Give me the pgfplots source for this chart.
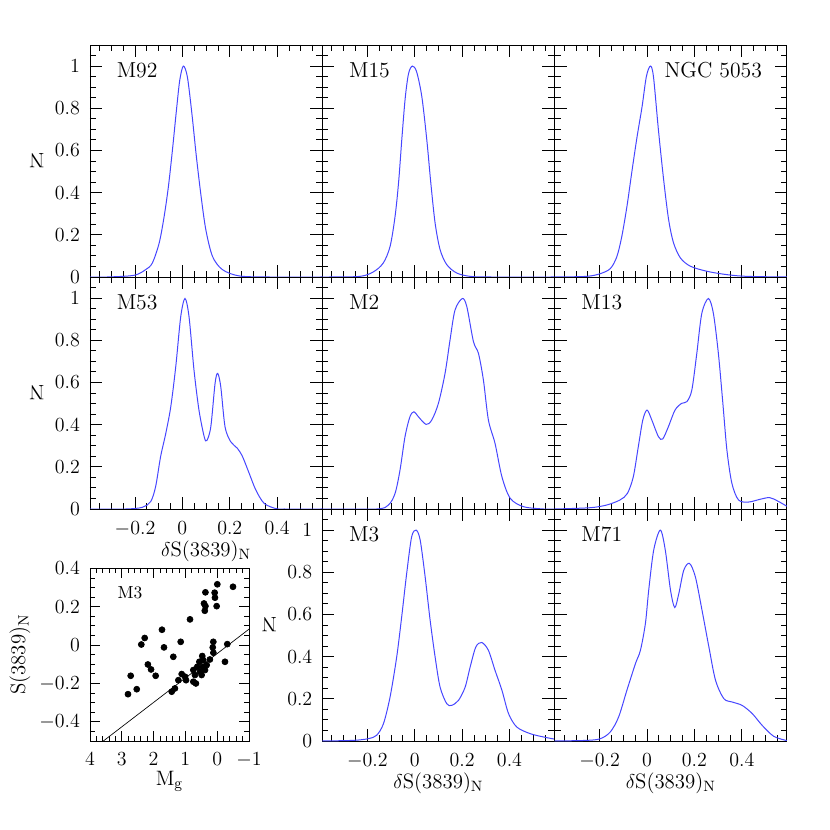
\documentclass[border=0pt]{standalone}
\usepackage{pgfplots}
\pgfplotsset{compat=1.18}
\definecolor{kde}{RGB}{70,70,255}
\pgfplotsset{
  panel/.style={
    scale only axis, width=139.3pt, height=139.2pt,
    xmin=-0.39, xmax=0.59, ymin=0, ymax=1.1,
    xtick={-0.2,0,0.2,0.4},
    minor xtick={-0.35,-0.3,-0.25,-0.15,-0.1,-0.05,0.05,0.1,0.15,0.25,0.3,0.35,0.45,0.5,0.55},
    ytick={0,0.2,0.4,0.6,0.8,1},
    minor ytick={0.05,0.1,0.15,0.25,0.3,0.35,0.45,0.5,0.55,0.65,0.7,0.75,0.85,0.9,0.95,1.05},
    tick align=inside, major tick length=7.2pt, minor tick length=3.6pt,
    xtick pos=both, ytick pos=both,
    axis line style={line width=0.5pt}, every tick/.style={black, line width=0.5pt},
    tick label style={font=\fontsize{12}{14}\selectfont},
    xticklabel style={yshift=-4pt},
    yticklabel style={xshift=-2.5pt},
    label style={font=\fontsize{12.5}{15}\selectfont},
    xlabel style={at={(axis description cs:0.5,-0.203)}, anchor=base},
    ylabel style={at={(axis description cs:-0.229,0.5)}, anchor=center, rotate=90},
    clip=true,
  },
  nox/.style={xticklabels={}},
  noy/.style={yticklabels={}},
  curve/.style={kde, line width=0.6pt, smooth, no marks},
}
\newcommand{\plabel}[1]{\node[anchor=base west, font=\fontsize{13}{15}\selectfont] at (rel axis cs:0.09,0.858) {#1};}
\begin{document}
\begin{tikzpicture}
\path (0,0) rectangle (498pt,498pt);
% Row 1
\begin{axis}[panel, nox, at={(54pt,331.8pt)}, ylabel={N}]
\addplot[curve] coordinates {(-0.39,0) (-0.317,0) (-0.204,0.008) (-0.155,0.035) (-0.127,0.066) (-0.098,0.161) (-0.077,0.287) (-0.059,0.429) (-0.042,0.602) (-0.025,0.792) (-0.011,0.934) (0.004,1.0) (0.021,0.949) (0.040,0.776) (0.059,0.571) (0.079,0.382) (0.099,0.224) (0.127,0.098) (0.169,0.035) (0.240,0.005) (0.366,0) (0.59,0)};
\plabel{M92}
\end{axis}
\begin{axis}[panel, nox, noy, at={(193.4pt,331.8pt)}]
\addplot[curve] coordinates {(-0.39,0) (-0.358,0) (-0.231,0.003) (-0.175,0.024) (-0.133,0.066) (-0.104,0.145) (-0.083,0.287) (-0.068,0.450) (-0.054,0.660) (-0.040,0.850) (-0.026,0.965) (-0.010,1.0) (0.008,0.973) (0.030,0.855) (0.051,0.650) (0.068,0.445) (0.086,0.256) (0.107,0.130) (0.135,0.059) (0.177,0.019) (0.234,0.003) (0.318,0) (0.59,0)};
\plabel{M15}
\end{axis}
\begin{axis}[panel, nox, noy, at={(332.8pt,331.8pt)}]
\addplot[curve] coordinates {(-0.39,0) (-0.255,0.003) (-0.197,0.016) (-0.155,0.040) (-0.128,0.095) (-0.107,0.19) (-0.085,0.334) (-0.063,0.508) (-0.042,0.666) (-0.021,0.808) (-0.003,0.950) (0.014,1.0) (0.027,0.950) (0.048,0.697) (0.070,0.461) (0.091,0.272) (0.112,0.161) (0.141,0.090) (0.183,0.051) (0.253,0.027) (0.338,0.011) (0.422,0.003) (0.59,0)};
\node[anchor=base east, font=\fontsize{13}{15}\selectfont] at (rel axis cs:0.918,0.858) {NGC 5053};
\end{axis}
% Row 2
\begin{axis}[panel, at={(54pt,192.6pt)}, ylabel={N}, xlabel={$\delta$S(3839)$_\mathrm{N}$}]
\addplot[curve] coordinates {(-0.39,0) (-0.239,0) (-0.169,0.008) (-0.134,0.035) (-0.113,0.106) (-0.092,0.248) (-0.070,0.359) (-0.049,0.485) (-0.028,0.675) (-0.007,0.912) (0.011,0.998) (0.028,0.912) (0.049,0.659) (0.070,0.469) (0.092,0.343) (0.103,0.324) (0.120,0.390) (0.138,0.596) (0.149,0.643) (0.162,0.580) (0.180,0.390) (0.204,0.319) (0.232,0.288) (0.254,0.248) (0.282,0.169) (0.310,0.090) (0.345,0.027) (0.394,0.002) (0.430,0) (0.59,0)};
\plabel{M53}
\end{axis}
\begin{axis}[panel, nox, noy, at={(193.4pt,192.6pt)}]
\addplot[curve] coordinates {(-0.39,0) (-0.161,0) (-0.111,0.019) (-0.083,0.074) (-0.062,0.185) (-0.041,0.343) (-0.020,0.438) (-0.003,0.461) (0.015,0.438) (0.048,0.401) (0.072,0.422) (0.100,0.501) (0.128,0.643) (0.149,0.801) (0.170,0.943) (0.201,0.998) (0.220,0.959) (0.248,0.793) (0.269,0.738) (0.290,0.611) (0.311,0.422) (0.339,0.311) (0.368,0.153) (0.403,0.051) (0.459,0.011) (0.544,0) (0.59,0)};
\plabel{M2}
\end{axis}
\begin{axis}[panel, nox, noy, at={(332.8pt,192.6pt)}]
\addplot[curve] coordinates {(-0.39,0) (-0.241,0.006) (-0.170,0.019) (-0.114,0.043) (-0.083,0.074) (-0.058,0.153) (-0.037,0.295) (-0.018,0.422) (0,0.469) (0.020,0.422) (0.048,0.343) (0.066,0.332) (0.090,0.390) (0.118,0.469) (0.146,0.501) (0.168,0.509) (0.189,0.564) (0.210,0.738) (0.231,0.927) (0.259,0.998) (0.280,0.927) (0.301,0.738) (0.320,0.501) (0.337,0.280) (0.358,0.122) (0.386,0.043) (0.428,0.033) (0.477,0.046) (0.517,0.054) (0.551,0.038) (0.59,0.013)};
\plabel{M13}
\end{axis}
% Row 3
\begin{axis}[panel, at={(193.4pt,53.4pt)}, ylabel={N}, xlabel={$\delta$S(3839)$_\mathrm{N}$}]
\addplot[curve] coordinates {(-0.39,0) (-0.259,0.003) (-0.196,0.011) (-0.161,0.027) (-0.132,0.082) (-0.104,0.209) (-0.076,0.399) (-0.055,0.589) (-0.034,0.794) (-0.013,0.968) (0.006,1.0) (0.023,0.953) (0.044,0.778) (0.065,0.573) (0.086,0.399) (0.107,0.256) (0.135,0.177) (0.156,0.169) (0.185,0.193) (0.213,0.256) (0.234,0.351) (0.258,0.446) (0.283,0.467) (0.311,0.430) (0.339,0.335) (0.368,0.241) (0.396,0.130) (0.431,0.066) (0.487,0.035) (0.544,0.019) (0.59,0.009)};
\plabel{M3}
\end{axis}
\begin{axis}[panel, noy, at={(332.8pt,53.4pt)}, xlabel={$\delta$S(3839)$_\mathrm{N}$}]
\addplot[curve] coordinates {(-0.39,0) (-0.254,0.003) (-0.197,0.011) (-0.155,0.043) (-0.120,0.114) (-0.085,0.241) (-0.049,0.367) (-0.028,0.430) (-0.007,0.557) (0.007,0.715) (0.028,0.905) (0.056,1.0) (0.077,0.905) (0.099,0.715) (0.117,0.633) (0.134,0.699) (0.155,0.810) (0.179,0.842) (0.204,0.778) (0.232,0.620) (0.261,0.446) (0.289,0.288) (0.324,0.201) (0.359,0.185) (0.401,0.169) (0.444,0.130) (0.486,0.074) (0.535,0.022) (0.59,0.002)};
\plabel{M71}
\end{axis}
% Inset
\begin{axis}[scale only axis, width=95.4pt, height=103.6pt, at={(54pt,53.4pt)},
  xmin=-1, xmax=4, x dir=reverse, ymin=-0.5, ymax=0.4,
  xtick={-1,0,1,2,3,4},
  minor xtick={-0.8,-0.6,-0.4,-0.2,0.2,0.4,0.6,0.8,1.2,1.4,1.6,1.8,2.2,2.4,2.6,2.8,3.2,3.4,3.6,3.8},
  ytick={-0.4,-0.2,0,0.2,0.4},
  minor ytick={-0.45,-0.35,-0.3,-0.25,-0.15,-0.1,-0.05,0.05,0.1,0.15,0.25,0.3,0.35},
  tick align=inside, major tick length=6pt, minor tick length=3pt,
  xtick pos=both, ytick pos=both,
  axis line style={line width=0.5pt}, every tick/.style={black, line width=0.5pt},
  tick label style={font=\fontsize{12}{14}\selectfont},
  xticklabel style={yshift=-3.5pt},
  yticklabel style={xshift=-2.5pt},
  label style={font=\fontsize{12.5}{15}\selectfont},
  xlabel={M$_\mathrm{g}$}, ylabel={S(3839)$_\mathrm{N}$},
  xlabel style={at={(axis description cs:0.5,-0.26)}, anchor=base},
  ylabel style={at={(axis description cs:-0.44,0.5)}, anchor=center},
  clip=true]
\addplot[only marks, mark=*, mark size=1.8pt, black] coordinates {
(2.805,-0.256) (2.72,-0.160) (2.53,-0.230) (2.386,0.003) (2.28,0.037) (2.18,-0.101) (2.08,-0.127) (1.935,-0.160) (1.736,0.080) (1.673,-0.012) (1.38,-0.061) (1.148,0.017) (1.43,-0.243) (1.33,-0.226) (1.22,-0.183) (1.116,-0.151) (1.01,-0.165) (0.98,-0.183) (0.855,0.134) (0.75,-0.191) (0.67,-0.200) (0.75,-0.130) (0.70,-0.156) (0.626,-0.113) (0.56,-0.087) (0.54,-0.139) (0.49,-0.156) (0.456,-0.113) (0.47,-0.057) (0.44,-0.078) (0.384,-0.130) (0.33,-0.104) (0.23,-0.075) (0.14,-0.012) (0.12,-0.040) (0.122,0.017) (0.39,0.179) (0.415,0.217) (0.37,0.275) (0.37,0.203) (0.08,0.273) (0.07,0.247) (0.017,0.203) (-0.004,0.317) (-0.318,0.005) (-0.245,-0.087) (-0.497,0.304)};
\addplot[black, line width=0.4pt] coordinates {(3.58,-0.5) (-1,0.083)};
\node[anchor=base west, font=\fontsize{10.5}{12}\selectfont] at (rel axis cs:0.137,0.827) {M3};
\end{axis}
\end{tikzpicture}
\end{document}
